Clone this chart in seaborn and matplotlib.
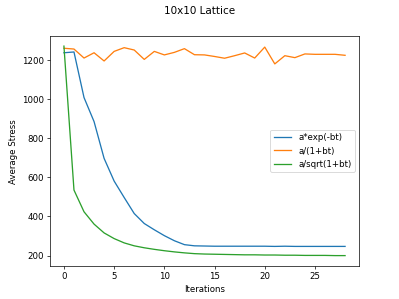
import matplotlib
matplotlib.use("Agg")
import matplotlib.pyplot as plt
import seaborn as sns
import numpy as np
import pandas as pd

iterations = list(range(29))
exp_vals = [1237, 1241, 1008, 885, 697, 581, 497, 415, 364, 332, 302, 276, 256, 250, 249, 248, 248, 248, 248, 248, 248, 247, 248, 247, 247, 247, 247, 247, 247]
inv_vals = [1260, 1256, 1210, 1237, 1195, 1244, 1263, 1251, 1203, 1244, 1226, 1239, 1258, 1227, 1226, 1218, 1209, 1222, 1236, 1210, 1266, 1180, 1222, 1212, 1231, 1229, 1229, 1229, 1224]
sqrt_vals = [1271, 535, 424, 361, 316, 287, 265, 250, 240, 232, 225, 219, 214, 210, 208, 207, 206, 205, 204, 204, 203, 203, 202, 202, 201, 201, 201, 200, 200]
labels = ["a*exp(-bt)", "a/(1+bt)", "a/sqrt(1+bt)"]

DPI = 62.35
fig, ax = plt.subplots(figsize=(6.4, 4.8), dpi=DPI)
colors = sns.color_palette("tab10")
for vals, lab, c in zip([exp_vals, inv_vals, sqrt_vals], labels, colors):
    df = pd.DataFrame({"Iterations": iterations, "Average Stress": vals})
    sns.lineplot(data=df, x="Iterations", y="Average Stress", ax=ax, label=lab, color=c, linewidth=1.5)

fig.suptitle("10x10 Lattice", fontsize=12)
ax.set_xlabel("Iterations", fontsize=10)
ax.set_ylabel("Average Stress", fontsize=10)
ax.tick_params(labelsize=10)
ax.set_xticks([0, 5, 10, 15, 20, 25])
ax.set_yticks([200, 400, 600, 800, 1000, 1200])
ax.legend(loc="center right", fontsize=10)
fig.subplots_adjust(left=0.125, right=0.9, top=0.88, bottom=0.11)
fig.savefig("out.png", dpi=DPI)
